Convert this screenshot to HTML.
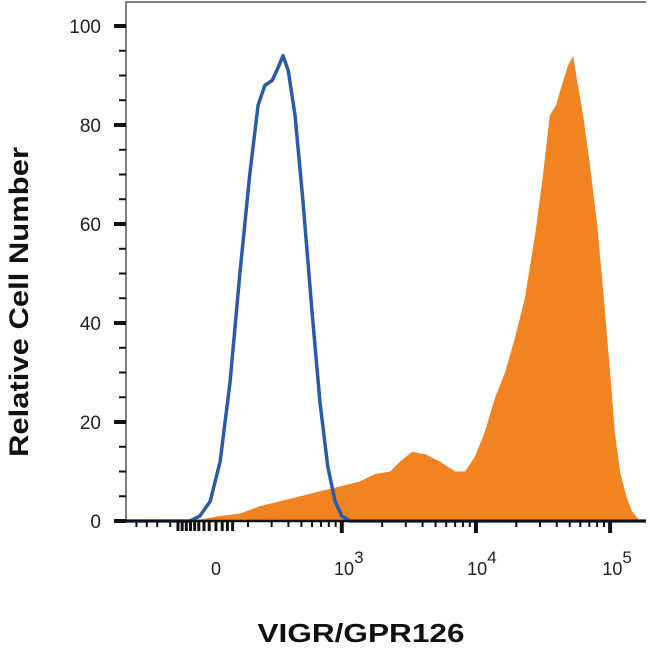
<!DOCTYPE html>
<html><head><meta charset="utf-8"><style>
html,body{margin:0;padding:0;background:#fff;}
svg{display:block;font-family:"Liberation Sans",Arial,sans-serif;}
</style></head><body>
<svg id="chart" width="650" height="652" viewBox="0 0 650 652" xmlns="http://www.w3.org/2000/svg">
<g id="plot"></g>
<text transform="translate(28,302) rotate(-90)" text-anchor="middle" font-size="27" font-weight="bold" fill="#111" textLength="310" lengthAdjust="spacingAndGlyphs">Relative Cell Number</text>
<text x="361" y="642" text-anchor="middle" font-size="26" font-weight="bold" fill="#111" textLength="207" lengthAdjust="spacingAndGlyphs">VIGR/GPR126</text>
</svg>
<script>
// display channel (0-1000) values and relative counts
const isoX = [123,142,162,181,200,219,238,254,267,281,290,302,312,325,340,358,373,388,402,415,431];
const isoY = [0,1,4,12,28,50,70,84,88,89,91,94,91,82,65,42,24,11,4,1,0];
const stainX = [104,142,181,219,258,296,335,373,412,450,479,508,527,550,575,604,633,652,671,690,710,729,748,767,787,802,815,827,838,850,860,869,879,892,906,919,931,940,950,962,973,988,1000];
const stainY = [0,0.3,1,1.5,3,4,5,6,7,8,9.5,10,12,14,13.5,12,10,10,13,18,25,30,37,45,58,70,82,84,88,92,94,88,82,72,60,45,30,18,10,5,2,0,0];
const yTicks = [0,20,40,60,80,100];
const xTickLabels = ["0","10","10","10"];
const xTickExp = ["","3","4","5"];
const xTickChan = [173,415,671,931];

const NS="http://www.w3.org/2000/svg";
const L=126,R=646,T=2,B=521;
const sx=c=>L+c*(R-L)/1000;
const sy=v=>B-v*(B-26)/100;
const g=document.getElementById('plot');
function el(t,a){const e=document.createElementNS(NS,t);for(const k in a)e.setAttribute(k,a[k]);g.appendChild(e);return e;}

let d=`M${sx(stainX[0])},${sy(0)}`;
stainX.forEach((x,i)=>d+=` L${sx(x)},${sy(stainY[i])}`);
d+=` L${sx(stainX[stainX.length-1])},${sy(0)} Z`;
const s=el('path',{d:d,fill:'#f28321',stroke:'none'});



let d2=`M${sx(0)},${sy(0)} L${sx(isoX[0])},${sy(0)}`;
isoX.forEach((x,i)=>d2+=` L${sx(x)},${sy(isoY[i])}`);
d2+=` L${sx(1000)},${sy(0)}`;
const iso=el('path',{d:d2,fill:'none',stroke:'#2a5ba8','stroke-width':3.5,'stroke-linejoin':'round'});



const fr=el('path',{d:`M${L},${B} L${L},${T} L${R},${T}`,fill:'none',stroke:'#555','stroke-width':1.5});


const xa=el('line',{x1:L,y1:B,x2:R,y2:B,stroke:'#111','stroke-width':2.5});



for(let v=0;v<=100;v+=5){
  const major=v%20===0;
  const t=el('line',{x1:major?L-12:L-7,x2:L,y1:sy(v),y2:sy(v),stroke:'#111','stroke-width':major?4:2});
  
  
}
yTicks.forEach(v=>{
  const t=el('text',{x:L-25,y:sy(v)+7,'text-anchor':'end','font-size':19,fill:'#222'});
  t.textContent=v;
  
  
});

const dec=(xTickChan[3]-xTickChan[1])/2;
function xt(c,len,w){if(c<0||c>1000)return;const t=el('line',{x1:sx(c),x2:sx(c),y1:B,y2:B+len,stroke:'#111','stroke-width':w});
  
  }
for(let e=2;e<=5;e++){for(let m=1;m<10;m++){const c=xTickChan[1]+(e-3+Math.log10(m))*dec;if(c>xTickChan[0]+40)xt(c,m===1?12:6,m===1?4:2);}}
[20,40,60,85,100,108,116,124,132,140,150,160,173,185,195,205].forEach(c=>xt(c,c>=100&&c<=205?10:6,c>=100&&c<=205?3:2));
xTickChan.forEach((c,i)=>{
  const t=el('text',{x:sx(c)+(i?7:0),y:575,'text-anchor':'middle','font-size':18,fill:'#222'});
  t.textContent=xTickLabels[i];
  
  
  if(xTickExp[i]){const s2=document.createElementNS(NS,'tspan');s2.setAttribute('dy','-12');s2.setAttribute('font-size','17');s2.textContent=xTickExp[i];t.appendChild(s2);}
});
</script>
</body></html>
